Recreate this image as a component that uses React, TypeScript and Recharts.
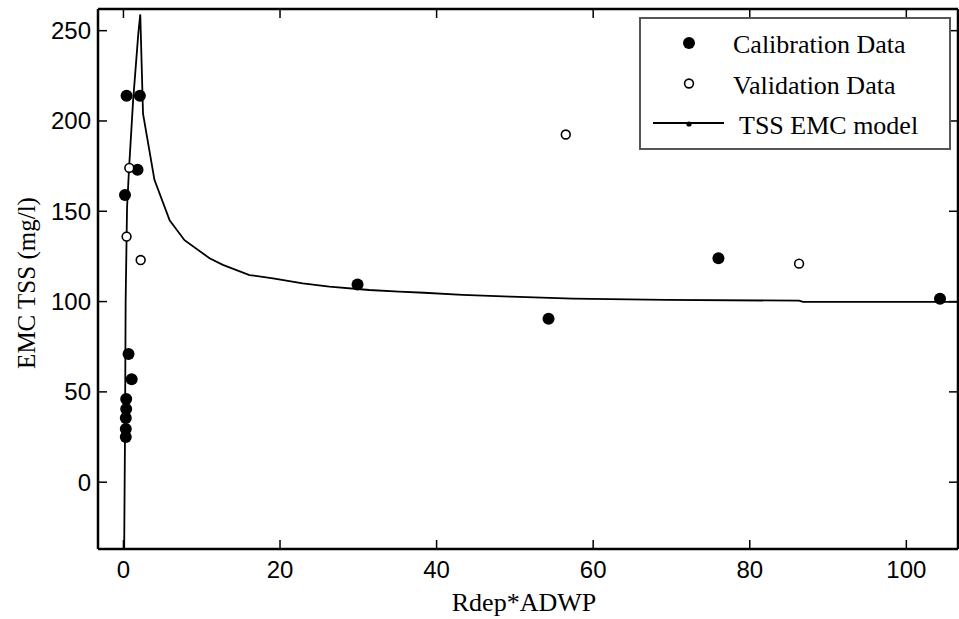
import React from "react";
import {
  ComposedChart,
  Line,
  Scatter,
  XAxis,
  YAxis,
} from "recharts";

// calibration storms (filled dots)
const calX = [0.4, 2.1, 1.8, 0.2, 0.65, 1.05, 0.35, 0.35, 0.3, 0.3, 0.3, 29.9, 54.3, 76.0, 104.3];
const calY = [214, 214, 173, 159, 71, 57, 46, 40.5, 35.5, 29.5, 25, 109.5, 90.5, 124, 101.5];

// validation storms (open dots)
const valX = [0.75, 0.4, 2.2, 56.5, 86.3];
const valY = [174, 136, 123, 192.5, 121];

// TSS EMC model curve
const modelX = [0.08, 0.2, 0.28, 0.46, 0.72, 1.23, 1.9, 2.15, 2.5, 3.3, 3.96, 5.9, 7.8, 11, 12.7, 16.1, 19.1, 22.9, 26.3, 31.4, 35.2, 38.4, 43.3, 49.5, 57.4, 69.3, 86.3, 86.8, 106.6];
const modelY = [-45, 27, 100, 152, 174, 211, 248.5, 259, 204, 184, 167.4, 145, 134, 124, 120.3, 114.7, 112.9, 110.1, 108.3, 106.4, 105.5, 104.9, 103.7, 102.7, 101.6, 100.9, 100.5, 99.8, 99.8];

const xTicks = [0, 20, 40, 60, 80, 100];
const yTicks = [0, 50, 100, 150, 200, 250];

const calData = calX.map((x, i) => ({ x, y: calY[i] }));
const valData = valX.map((x, i) => ({ x, y: valY[i] }));
const modelData = modelX.map((x, i) => ({ x, y: modelY[i] }));

const X_DOMAIN: [number, number] = [-3.25, 106.6];
const Y_DOMAIN: [number, number] = [-37, 262];

const SANS = "'Liberation Sans', Arial, sans-serif";
const SERIF = "'Liberation Serif', 'Times New Roman', serif";
const TICK_LEN = 9;

const BottomTick = (props: any) => {
  const { x, y, payload } = props;
  return (
    <g>
      <line x1={x} x2={x} y1={y} y2={y - TICK_LEN} stroke="#000" strokeWidth={1.5} />
      <text x={x} y={y + 29} textAnchor="middle" fontFamily={SANS} fontSize={24} fill="#000">
        {payload.value}
      </text>
    </g>
  );
};

const TopTick = (props: any) => {
  const { x, y } = props;
  return <line x1={x} x2={x} y1={y} y2={y + TICK_LEN} stroke="#000" strokeWidth={1.5} />;
};

const LeftTick = (props: any) => {
  const { x, y, payload } = props;
  return (
    <g>
      <line x1={x} x2={x + TICK_LEN} y1={y} y2={y} stroke="#000" strokeWidth={1.5} />
      <text x={x - 7} y={y + 8.5} textAnchor="end" fontFamily={SANS} fontSize={24} fill="#000">
        {payload.value}
      </text>
    </g>
  );
};

const RightTick = (props: any) => {
  const { x, y } = props;
  return <line x1={x} x2={x - TICK_LEN} y1={y} y2={y} stroke="#000" strokeWidth={1.5} />;
};

const FilledDot = (p: any) => <circle cx={p.cx} cy={p.cy} r={6} fill="#000" />;
const OpenDot = (p: any) => (
  <circle cx={p.cx} cy={p.cy} r={4.4} fill="#fff" stroke="#000" strokeWidth={1.6} />
);

const YTitle = (props: any) => {
  const vb = props.viewBox;
  const cx = 26;
  const cy = vb.y + vb.height / 2 + 4;
  return (
    <text
      x={cx}
      y={cy}
      transform={`rotate(-90 ${cx} ${cy})`}
      textAnchor="middle"
      dominantBaseline="central"
      fontFamily={SERIF}
      fontSize={25}
      fill="#000"
      style={{ fill: "#000" }}
    >
      EMC TSS (mg/l)
    </text>
  );
};

const XTitle = (props: any) => {
  const vb = props.viewBox;
  const cx = vb.x + vb.width / 2 - 4;
  return (
    <text
      x={cx}
      y={611}
      textAnchor="middle"
      fontFamily={SERIF}
      fontSize={26}
      fill="#000"
      style={{ fill: "#000" }}
    >
      Rdep*ADWP
    </text>
  );
};

function LegendBox() {
  const rows = [
    { label: "Calibration Data", kind: "filled" },
    { label: "Validation Data", kind: "open" },
    { label: "TSS EMC model", kind: "line" },
  ];
  return (
    <svg
      width={313}
      height={133}
      style={{ position: "absolute", left: 639, top: 17 }}
    >
      <rect x={1} y={1} width={310} height={131} fill="#fff" stroke="#555" strokeWidth={2} />
      {rows.map((r, i) => {
        const cy = 27 + i * 40.5;
        return (
          <g key={r.label}>
            {r.kind === "filled" && <circle cx={50} cy={cy - 1} r={6} fill="#000" />}
            {r.kind === "open" && (
              <circle cx={50} cy={cy - 1} r={4.4} fill="#fff" stroke="#000" strokeWidth={1.6} />
            )}
            {r.kind === "line" && (
              <g>
                <line x1={14} x2={85} y1={cy - 2} y2={cy - 2} stroke="#000" strokeWidth={2} />
                <circle cx={50} cy={cy - 1} r={2.6} fill="#000" />
              </g>
            )}
            <text
              x={r.kind === "line" ? 100 : 94}
              y={cy + 9}
              fontFamily={SERIF}
              fontSize={26}
              fill="#000"
            >
              {r.label}
            </text>
          </g>
        );
      })}
    </svg>
  );
}

export default function App() {
  return (
    <div style={{ position: "absolute", left: 0, top: 0, width: 959, height: 619, background: "#fff" }}>
      <ComposedChart
        width={959}
        height={619}
        margin={{ top: 8, right: 0, bottom: 0, left: 0 }}
      >
        <XAxis
          dataKey="x"
          type="number"
          domain={X_DOMAIN}
          ticks={xTicks}
          allowDataOverflow
          height={70}
          tickSize={0}
          tickMargin={0}
          tickLine={false}
          tick={BottomTick}
          axisLine={{ stroke: "#000", strokeWidth: 2.5 }}
          interval={0}
          label={{ content: XTitle }}
        />
        <XAxis
          xAxisId="top"
          orientation="top"
          dataKey="x"
          type="number"
          domain={X_DOMAIN}
          ticks={xTicks}
          allowDataOverflow
          height={1}
          tickSize={0}
          tickMargin={0}
          tickLine={false}
          tick={TopTick}
          axisLine={{ stroke: "#000", strokeWidth: 2.5 }}
          interval={0}
        />
        <YAxis
          type="number"
          domain={Y_DOMAIN}
          ticks={yTicks}
          allowDataOverflow
          width={98}
          tickSize={0}
          tickMargin={0}
          tickLine={false}
          tick={LeftTick}
          axisLine={{ stroke: "#000", strokeWidth: 2.5 }}
          interval={0}
          label={{ content: YTitle }}
        />
        <YAxis
          yAxisId="right"
          orientation="right"
          type="number"
          domain={Y_DOMAIN}
          ticks={yTicks}
          allowDataOverflow
          width={1}
          tickSize={0}
          tickMargin={0}
          tickLine={false}
          tick={RightTick}
          axisLine={{ stroke: "#000", strokeWidth: 2.5 }}
          interval={0}
        />
        <Line
          data={modelData}
          dataKey="y"
          type="linear"
          stroke="#000"
          strokeWidth={1.8}
          dot={false}
          activeDot={false}
          isAnimationActive={false}
        />
        <Scatter data={calData} dataKey="y" shape={FilledDot} isAnimationActive={false} />
        <Scatter
          data={valData}
          dataKey="y"
          xAxisId="top"
          yAxisId="right"
          shape={OpenDot}
          isAnimationActive={false}
        />
      </ComposedChart>
      <LegendBox />
    </div>
  );
}
